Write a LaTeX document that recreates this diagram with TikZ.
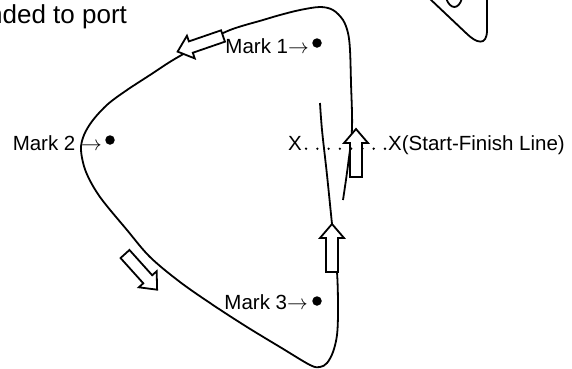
\documentclass[tikz,border=0pt]{standalone}
\usepackage{fontspec}
\setmainfont{Liberation Sans}
\usetikzlibrary{positioning,calc}
\tikzset{
  track/.style={line width=1.8pt},
  dot/.style={circle, fill, inner sep=0pt, minimum size=9.5pt},
  lbl/.style={inner sep=0pt, font=\fontsize{20.5}{24}\selectfont},
  pics/blockarrow/.style={code={
    \draw[line width=1.8pt, fill=white, line join=miter]
      (0,-6)--(34,-6)--(34,-12)--(48,0)--(34,12)--(34,6)--(0,6)--cycle;
  }}
}
\begin{document}
\begin{tikzpicture}[x=1pt,y=-1pt]
\useasboundingbox (0,0) rectangle (572,368);

% the course
\draw[track] plot[smooth, tension=0.55] coordinates {
  (320,103) (322,130) (327,175) (332,224) (337,272) (338,310) (337,335)
  (333,352) (327,363) (320,367) (310,365) (280,347) (247,327) (213,305)
  (180,282) (150,257) (127,230) (100,197) (86,172) (81,150) (84,135)
  (93,120) (108,104) (127,90) (150,75) (173,60) (200,45) (230,30)
  (263,20) (280,15) (300,10) (320,7) (333,10) (343,20) (348,33)
  (350,50) (351,83) (352,128) (348,165) (343,200)};

% next picture, cut off at the top
\draw[track] (429,-2) -- (466,33) .. controls (476,43) and (487,47) .. (487,30) -- (487,-2);
\draw[track] (446,-2) .. controls (450,10) and (459,10) .. (462,-2);

% direction of sailing
\pic[rotate=90] at (356,177) {blockarrow};
\pic[rotate=90] at (332,272) {blockarrow};
\pic[rotate=199] at (223,36) {blockarrow};
\pic[rotate=-48] at (125,254) {blockarrow};

% marks
\node[dot] (m1) at (317,43) {};
\node[lbl, left=3pt of m1, yshift=-3pt] (m1lbl) {Mark 1$\rightarrow$};
\node[dot] (m2) at (110,140) {};
\node[lbl, left=3pt of m2, yshift=-3pt] (m2lbl) {Mark 2 $\rightarrow$};
\node[dot] (m3) at (317,301) {};
\node[lbl, left=4pt of m3, yshift=-1pt] (m3lbl) {Mark 3$\rightarrow$};

% start-finish line
\node[lbl, anchor=base west] (xa) at (288,150) {X};
\node[lbl, anchor=base west] (xb) at (388,150) {X(Start-Finish Line)};
\coordinate (la) at ([shift={(4,-1.3)}]xa.base east);
\coordinate (lb) at ([shift={(-3,-1.3)}]xb.base west);
\foreach \i in {0,...,7}{
\fill ($(la)!\i/7!(lb)$) circle (1.3pt);
}

\node[lbl, font=\fontsize{26}{30}\selectfont, anchor=base west] (cap) at (-12,23) {nded to port};
\end{tikzpicture}
\end{document}
